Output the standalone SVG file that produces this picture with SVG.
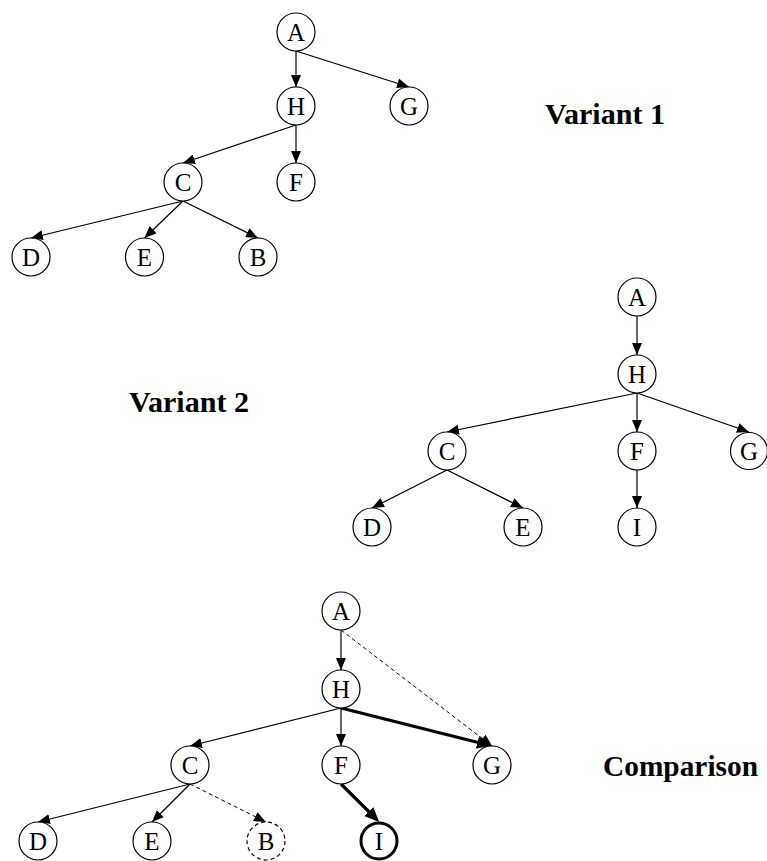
<svg xmlns="http://www.w3.org/2000/svg" width="767" height="861" viewBox="0 0 767 861">
<style>
  .node circle { fill: #fff; stroke: #000; stroke-width: 1.2; }
  .node text { font-family: "Liberation Serif", "Times New Roman", serif; font-size: 25px; text-anchor: middle; fill: #000; }
  .node.dashed circle { stroke-dasharray: 4 3; }
  .node.bold circle { stroke-width: 3; }
  .edge { stroke: #000; stroke-width: 1.2; fill: none; marker-end: url(#arrow); }
  .edge.dashed { stroke-dasharray: 4 3; stroke-width: 1; }
  .edge.bold { stroke-width: 3.2; marker-end: url(#arrowBold); }
  .title { font-family: "Liberation Serif", "Times New Roman", serif; font-size: 30px; font-weight: bold; fill: #000; }
</style>
<defs>
  <marker id="arrow" markerUnits="userSpaceOnUse" markerWidth="12" markerHeight="10" refX="12" refY="5" orient="auto">
    <path d="M0,0 L12,5 L0,10 z" fill="#000"/>
  </marker>
  <marker id="arrowBold" markerUnits="userSpaceOnUse" markerWidth="16" markerHeight="14" refX="11" refY="7" orient="auto">
    <path d="M0,0.5 L15,7 L0,13.5 z" fill="#000"/>
  </marker>
</defs>
<rect width="767" height="861" fill="#fff"/>

<!-- Titles -->
<text class="title" x="545" y="124" textLength="120" lengthAdjust="spacingAndGlyphs">Variant 1</text>
<text class="title" x="129" y="412" textLength="120" lengthAdjust="spacingAndGlyphs">Variant 2</text>
<text class="title" x="603" y="776" textLength="155" lengthAdjust="spacingAndGlyphs">Comparison</text>

<!-- Connectors -->
<g id="connectors">
  <!-- Variant 1 -->
  <line class="edge" x1="296" y1="51" x2="296" y2="87"/>
  <line class="edge" x1="296" y1="51" x2="409" y2="87"/>
  <line class="edge" x1="296" y1="125" x2="183" y2="163"/>
  <line class="edge" x1="296" y1="125" x2="296" y2="163"/>
  <line class="edge" x1="183" y1="201" x2="31" y2="238"/>
  <line class="edge" x1="183" y1="201" x2="144.5" y2="238"/>
  <line class="edge" x1="183" y1="201" x2="258" y2="238"/>
  <!-- Variant 2 -->
  <line class="edge" x1="637" y1="316" x2="637" y2="355"/>
  <line class="edge" x1="637" y1="393" x2="447" y2="432"/>
  <line class="edge" x1="637" y1="393" x2="637" y2="432"/>
  <line class="edge" x1="637" y1="393" x2="749" y2="432"/>
  <line class="edge" x1="447" y1="470" x2="372" y2="508"/>
  <line class="edge" x1="447" y1="470" x2="523" y2="508"/>
  <line class="edge" x1="637" y1="470" x2="637" y2="508"/>
  <!-- Comparison -->
  <line class="edge" x1="341" y1="630" x2="341" y2="670"/>
  <line class="edge dashed" x1="341" y1="630" x2="492" y2="746"/>
  <line class="edge" x1="341" y1="708" x2="190" y2="746"/>
  <line class="edge" x1="341" y1="708" x2="341" y2="746"/>
  <line class="edge bold" x1="341" y1="708" x2="488.1" y2="745"/>
  <line class="edge" x1="190" y1="784" x2="38" y2="822"/>
  <line class="edge" x1="190" y1="784" x2="152" y2="822"/>
  <line class="edge dashed" x1="190" y1="784" x2="266" y2="822"/>
  <line class="edge bold" x1="341" y1="784" x2="376.4" y2="819.2"/>
</g>

<!-- Variant 1 nodes -->
<g id="v1-A" class="node"><circle cx="296" cy="32" r="19"/><text x="296" y="40.5">A</text></g>
<g id="v1-H" class="node"><circle cx="296" cy="106" r="19"/><text x="296" y="114.5">H</text></g>
<g id="v1-G" class="node"><circle cx="409" cy="106" r="19"/><text x="409" y="114.5">G</text></g>
<g id="v1-C" class="node"><circle cx="183" cy="182" r="19"/><text x="183" y="190.5">C</text></g>
<g id="v1-F" class="node"><circle cx="296" cy="182" r="19"/><text x="296" y="190.5">F</text></g>
<g id="v1-D" class="node"><circle cx="31" cy="257" r="19"/><text x="31" y="265.5">D</text></g>
<g id="v1-E" class="node"><circle cx="144.5" cy="257" r="19"/><text x="144.5" y="265.5">E</text></g>
<g id="v1-B" class="node"><circle cx="258" cy="257" r="19"/><text x="258" y="265.5">B</text></g>

<!-- Variant 2 nodes -->
<g id="v2-A" class="node"><circle cx="637" cy="297" r="19"/><text x="637" y="305.5">A</text></g>
<g id="v2-H" class="node"><circle cx="637" cy="374" r="19"/><text x="637" y="382.5">H</text></g>
<g id="v2-C" class="node"><circle cx="447" cy="451" r="19"/><text x="447" y="459.5">C</text></g>
<g id="v2-F" class="node"><circle cx="637" cy="451" r="19"/><text x="637" y="459.5">F</text></g>
<g id="v2-G" class="node"><circle cx="749" cy="451" r="18.5"/><text x="749" y="459.5">G</text></g>
<g id="v2-D" class="node"><circle cx="372" cy="527" r="19"/><text x="372" y="535.5">D</text></g>
<g id="v2-E" class="node"><circle cx="523" cy="527" r="19"/><text x="523" y="535.5">E</text></g>
<g id="v2-I" class="node"><circle cx="637" cy="527" r="19"/><text x="637" y="535.5">I</text></g>

<!-- Comparison nodes -->
<g id="cmp-A" class="node"><circle cx="341" cy="611" r="19"/><text x="341" y="619.5">A</text></g>
<g id="cmp-H" class="node"><circle cx="341" cy="689" r="19"/><text x="341" y="697.5">H</text></g>
<g id="cmp-C" class="node"><circle cx="190" cy="765" r="19"/><text x="190" y="773.5">C</text></g>
<g id="cmp-F" class="node"><circle cx="341" cy="765" r="19"/><text x="341" y="773.5">F</text></g>
<g id="cmp-G" class="node"><circle cx="492" cy="765" r="19"/><text x="492" y="773.5">G</text></g>
<g id="cmp-D" class="node"><circle cx="38" cy="841" r="19"/><text x="38" y="849.5">D</text></g>
<g id="cmp-E" class="node"><circle cx="152" cy="841" r="19"/><text x="152" y="849.5">E</text></g>
<g id="cmp-B" class="node dashed"><circle cx="266" cy="841" r="19"/><text x="266" y="849.5">B</text></g>
<g id="cmp-I" class="node bold"><circle cx="379" cy="841" r="18"/><text x="379" y="849.5">I</text></g>
</svg>
